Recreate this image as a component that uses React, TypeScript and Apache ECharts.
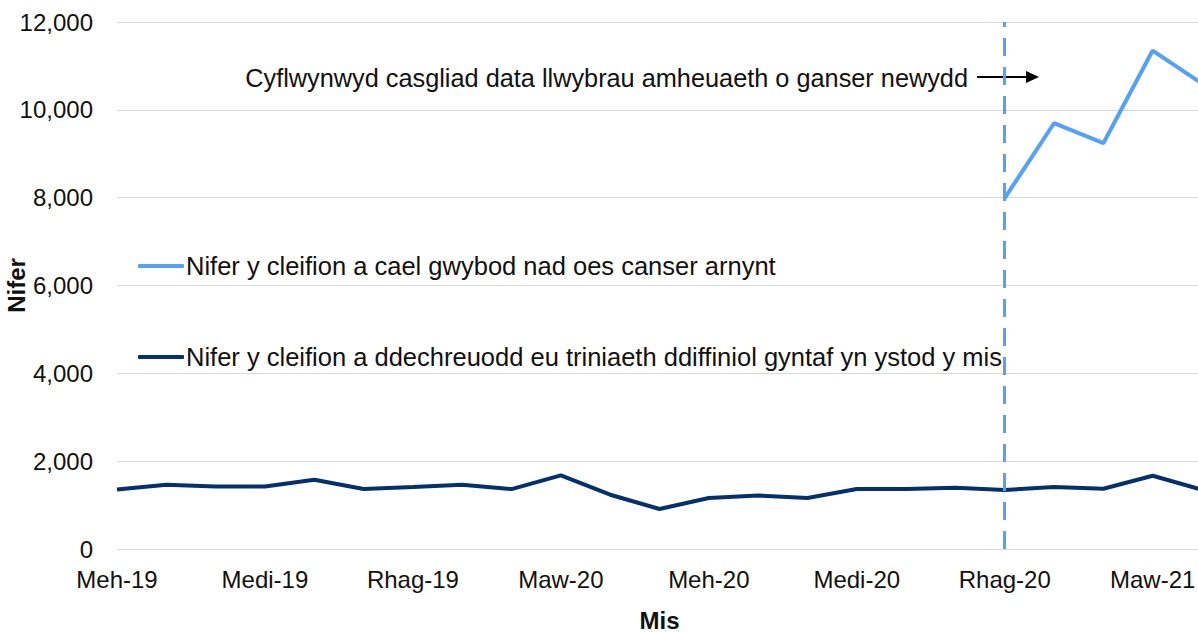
import React, { useEffect, useRef } from "react";
import * as echarts from "echarts";

const months: string[] = [
  "Meh-19", "Gorff-19", "Awst-19", "Medi-19", "Hyd-19", "Tach-19", "Rhag-19",
  "Ion-20", "Chwe-20", "Maw-20", "Ebr-20", "Mai-20", "Meh-20", "Gorff-20",
  "Awst-20", "Medi-20", "Hyd-20", "Tach-20", "Rhag-20", "Ion-21", "Chwe-21",
  "Maw-21", "Ebr-21",
];

const treatmentStarts: number[] = [
  1356, 1463, 1425, 1425, 1577, 1365, 1411, 1463, 1365, 1675, 1236, 910,
  1160, 1220, 1160, 1365, 1365, 1395, 1343, 1411, 1372, 1668, 1350,
];

const noCancerMonths: string[] = ["Rhag-20", "Ion-21", "Chwe-21", "Maw-21", "Ebr-21"];
const noCancerValues: number[] = [7990, 9695, 9240, 11350, 10600];

const yTicks = { min: 0, max: 12000, interval: 2000 };

const lightName = "Nifer y cleifion a cael gwybod nad oes canser arnynt";
const darkName = "Nifer y cleifion a ddechreuodd eu triniaeth ddiffiniol gyntaf yn ystod y mis";
const annotationText = "Cyflwynwyd casgliad data llwybrau amheuaeth o ganser newydd";
const markerMonth = "Rhag-20";

const FONT = "'Liberation Sans', Arial, sans-serif";
const TEXT = "#111";
const LIGHT = "#55a1f7";
const DARK = "#05306e";

export default function App() {
  const ref = useRef<HTMLDivElement>(null);
  useEffect(() => {
    if (!ref.current) return;
    const chart = echarts.init(ref.current, undefined, { renderer: "svg" });
    const lightData = months.map((m) => {
      const i = noCancerMonths.indexOf(m);
      return i >= 0 ? noCancerValues[i] : null;
    });
    chart.setOption({
      animation: false,
      textStyle: { fontFamily: FONT },
      grid: { left: 117, right: 0, top: 22, bottom: 83, containLabel: false, outerBoundsMode: "none" },
      legend: {
        orient: "vertical",
        left: 133,
        top: 248,
        icon: "roundRect",
        itemWidth: 46,
        itemHeight: 4,
        itemGap: 65,
        textStyle: { fontFamily: FONT, fontSize: 25.5, color: TEXT, lineHeight: 26, padding: [0, 0, 0, -3] },
        data: [lightName, darkName],
      },
      xAxis: {
        type: "category",
        data: months,
        boundaryGap: false,
        name: "Mis",
        nameLocation: "middle",
        nameGap: 62,
        nameMoveOverlap: false,
        nameTextStyle: { fontFamily: FONT, fontSize: 24, fontWeight: "bold", color: TEXT, lineHeight: 18 },
        axisLine: { show: false },
        axisTick: { show: false },
        axisLabel: { interval: 2, fontFamily: FONT, fontSize: 24, color: TEXT, margin: 18 },
        splitLine: { show: false },
      },
      yAxis: {
        type: "value",
        min: yTicks.min,
        max: yTicks.max,
        interval: yTicks.interval,
        name: "Nifer",
        nameLocation: "middle",
        nameGap: 89,
        nameMoveOverlap: false,
        nameTextStyle: { fontFamily: FONT, fontSize: 24, fontWeight: "bold", color: TEXT },
        axisLine: { show: false },
        axisTick: { show: false },
        axisLabel: {
          fontFamily: FONT,
          fontSize: 24,
          color: TEXT,
          margin: 24,
          formatter: (v: number) => v.toLocaleString("en-GB"),
        },
        splitLine: { lineStyle: { color: "#d9d9d9", width: 1 } },
      },
      series: [
        {
          name: lightName,
          type: "line",
          data: lightData,
          symbol: "none",
          connectNulls: false,
          lineStyle: { color: LIGHT, width: 4 },
          itemStyle: { color: LIGHT },
          z: 3,
          markLine: {
            silent: true,
            symbol: "none",
            label: { show: false },
            lineStyle: { color: LIGHT, width: 3, type: [18, 11] },
            data: [{ xAxis: markerMonth }],
          },
        },
        {
          name: darkName,
          type: "line",
          data: treatmentStarts,
          symbol: "none",
          lineStyle: { color: DARK, width: 4 },
          itemStyle: { color: DARK },
          z: 4,
        },
      ],
      graphic: [
        {
          type: "text",
          x: 968,
          y: 78,
          style: {
            text: annotationText,
            fontFamily: FONT,
            fontSize: 25.3,
            fill: TEXT,
            textAlign: "right",
            textVerticalAlign: "middle",
          },
        },
        {
          type: "line",
          shape: { x1: 977, y1: 77, x2: 1027, y2: 77 },
          style: { stroke: "#000", lineWidth: 2 },
        },
        {
          type: "polygon",
          shape: { points: [[1026, 71], [1039, 77], [1026, 83]] },
          style: { fill: "#000" },
        },
      ],
    });
    return () => chart.dispose();
  }, []);
  return (
    <div style={{ position: "fixed", left: 0, top: 0, width: 1198, height: 632, overflow: "hidden", background: "#fff" }}>
      <div ref={ref} style={{ width: 1202, height: 632 }} />
    </div>
  );
}
